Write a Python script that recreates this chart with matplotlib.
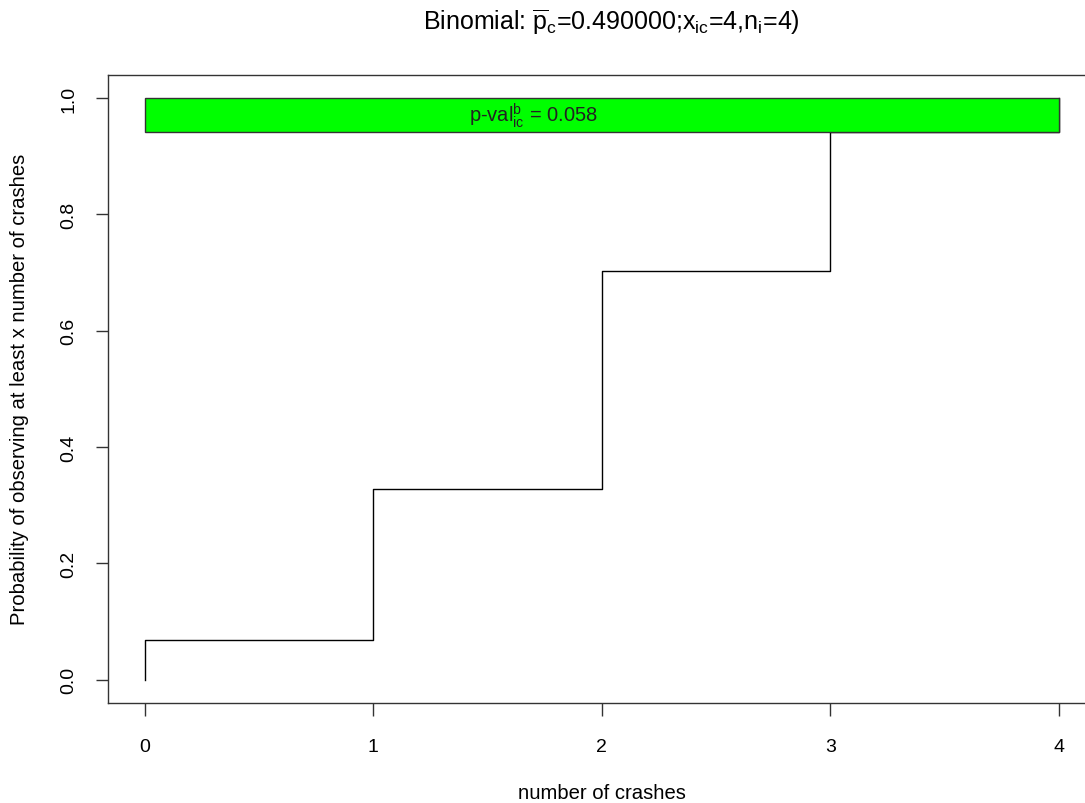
import numpy as np
import matplotlib
matplotlib.use("Agg")
import matplotlib.pyplot as plt
from matplotlib.patches import Rectangle

plt.rcParams['font.family'] = ['Liberation Sans', 'DejaVu Sans']
plt.rcParams['mathtext.fontset'] = 'custom'
plt.rcParams['mathtext.rm'] = 'Liberation Sans'
plt.rcParams['mathtext.it'] = 'Liberation Sans'

# data
crashes = [0, 1, 2, 3, 4]
cum_prob = [0.068, 0.328, 0.702, 0.942, 1.0]  # P(X <= x), binomial n=4, p=0.49
p_value = 0.058
p_text = 'p-val$^{\\mathrm{b}}_{\\mathrm{ic}}$ = 0.058'
x_ticks = [0, 1, 2, 3, 4]
y_ticks = [0.0, 0.2, 0.4, 0.6, 0.8, 1.0]

fig = plt.figure(figsize=(10.85, 8.04), dpi=100)
# right edge of the box is cropped off in the original
ax = fig.add_axes([0.0995, 0.1244, 0.9103, 0.7814])

# step line, starting from 0 at x=0
ax.step(np.r_[0, crashes], np.r_[0, cum_prob], where='post', color='black', lw=1.0, zorder=2)

# green band for the p-value
ax.add_patch(Rectangle((crashes[0], 1 - p_value), crashes[-1] - crashes[0], p_value,
                       facecolor='#00ff00', edgecolor='#333333', lw=1.0, zorder=3))
ax.text(1.7, 1 - p_value / 2, p_text, ha='center', va='center', fontsize=14.5,
        color='#222222', zorder=4)

ax.set_xlim(-0.16, 4.16)
ax.set_ylim(-0.04, 1.04)
ax.set_xticks(x_ticks)
ax.set_xticklabels([str(t) for t in x_ticks])
ax.set_yticks(y_ticks)
ax.set_yticklabels(['%.1f' % t for t in y_ticks], rotation=90, va='center')
ax.tick_params(direction='out', length=9, width=1.0, labelsize=14, color='#333333')
ax.tick_params(axis='x', pad=16)
ax.tick_params(axis='y', pad=13)
for s in ax.spines.values():
    s.set_color('#333333')
    s.set_linewidth(1.0)

ax.set_xlabel('number of crashes', fontsize=14.6)
ax.xaxis.set_label_coords(0.5, -0.1417)
ax.xaxis.label.set_va('center')
ax.set_ylabel('Probability of observing at least x number of crashes', fontsize=14.6)
ax.yaxis.set_label_coords(-0.0891, 0.5)
ax.yaxis.label.set_va('center')

ax.text(0.5094, 1.0855,
        'Binomial: $\\overline{\\mathrm{p}}_{\\mathrm{c}}$=0.490000;x$_{\\mathrm{ic}}$=4,n$_{\\mathrm{i}}$=4)',
        transform=ax.transAxes, ha='center', va='center', fontsize=18)

fig.savefig('out.png', dpi=100)
